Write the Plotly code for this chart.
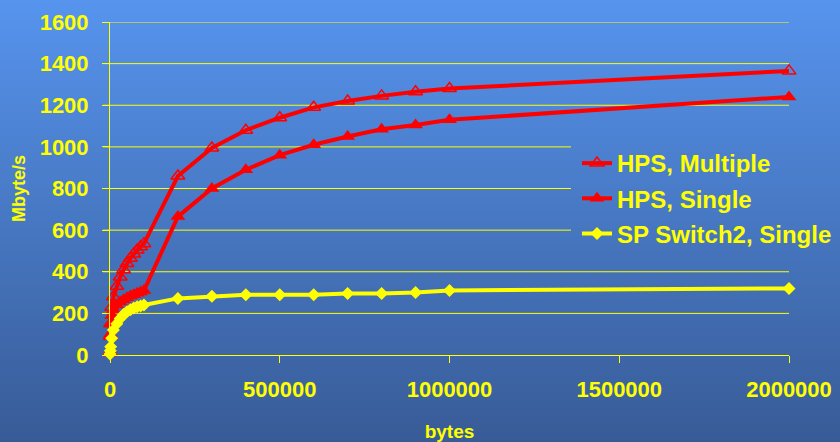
import plotly.graph_objects as go

# Message size in bytes
msg_bytes = [100, 1000, 2000, 5000, 10000, 20000, 30000, 40000, 50000, 60000,
             70000, 80000, 90000, 100000, 200000, 300000, 400000, 500000,
             600000, 700000, 800000, 900000, 1000000, 2000000]

# Bandwidth in Mbyte/s
hps_multiple = [15, 90, 150, 230, 280, 330, 375, 410, 440, 465, 485, 505, 520, 535,
                860, 995, 1080, 1140, 1190, 1220, 1245, 1265, 1280, 1365]
hps_single = [10, 100, 150, 190, 215, 240, 255, 265, 275, 283, 290, 297, 303, 310,
              665, 800, 890, 960, 1010, 1050, 1085, 1105, 1130, 1240]
sp_switch2 = [5, 20, 40, 80, 120, 150, 175, 195, 208, 218, 226, 232, 236, 240,
              272, 282, 290, 290, 290, 295, 295, 300, 310, 320]

y_ticks = [0, 200, 400, 600, 800, 1000, 1200, 1400, 1600]
x_ticks = [0, 500000, 1000000, 1500000, 2000000]

W, H = 840, 442
ML, MR, MT, MB = 110, 51, 22, 87
PW, PH = W - ML - MR, H - MT - MB
Y_MAX = 1600

YELLOW = "#ffff00"
RED = "#ff0000"
FONT = "Liberation Sans"

TOP = (86, 148, 238)
BOT = (56, 91, 150)

# legend box (pixels); gridlines stop at its left edge
LEG_X0, LEG_Y0, LEG_Y1 = 571, 142, 254


def px_x(p):
    return (p - ML) / PW


def px_y(p):
    return (H - MB - p) / PH


def grad(p):
    t = p / H
    return "rgb(%d,%d,%d)" % tuple(round(a + (b - a) * t) for a, b in zip(TOP, BOT))


shapes = []
STEP = 4
# vertical gradient behind the whole figure
for p in range(0, H, STEP):
    shapes.append(dict(type="rect", xref="paper", yref="paper", layer="below",
                       x0=px_x(0), x1=px_x(W), y0=px_y(p + STEP + 1), y1=px_y(p),
                       fillcolor=grad(p + STEP / 2), line=dict(width=0)))

# horizontal gridlines, cut short where the legend sits
for v in y_ticks[1:]:
    py = H - MB - v / Y_MAX * PH
    x_end = px_x(LEG_X0) if LEG_Y0 <= py <= LEG_Y1 else 1
    shapes.append(dict(type="line", xref="paper", yref="y", layer="below",
                       x0=px_x(ML - 7), x1=x_end, y0=v, y1=v,
                       line=dict(color=YELLOW, width=1)))

fig = go.Figure()
fig.add_trace(go.Scatter(
    x=msg_bytes, y=hps_multiple, name="HPS, Multiple", mode="lines+markers",
    line=dict(color=RED, width=4),
    marker=dict(symbol="triangle-up-open", size=12, color=RED, line=dict(width=1.5, color=RED)),
    cliponaxis=False, legendgroup="a"))
fig.add_trace(go.Scatter(
    x=msg_bytes, y=hps_single, name="HPS, Single", mode="lines+markers",
    line=dict(color=RED, width=4),
    marker=dict(symbol="triangle-up", size=13, color=RED),
    cliponaxis=False, legendgroup="b"))
fig.add_trace(go.Scatter(
    x=msg_bytes, y=sp_switch2, name="SP Switch2, Single", mode="lines+markers",
    line=dict(color=YELLOW, width=4),
    marker=dict(symbol="diamond", size=10, color=YELLOW),
    cliponaxis=False, legendgroup="c"))

fig.update_layout(
    width=W, height=H,
    margin=dict(l=ML, r=MR, t=MT, b=MB, autoexpand=False),
    paper_bgcolor=grad(H / 2), plot_bgcolor="rgba(0,0,0,0)",
    font=dict(family=FONT, color=YELLOW, size=22, weight="bold"),
    shapes=shapes,
    showlegend=True,
    legend=dict(x=px_x(577), y=px_y(141), xanchor="left", yanchor="top",
                bgcolor="rgba(0,0,0,0)", borderwidth=0, tracegroupgap=1,
                font=dict(family=FONT, size=24, color=YELLOW, weight="bold")),
    xaxis=dict(range=[0, 2000000], tickvals=x_ticks, ticktext=[str(v) for v in x_ticks],
               showgrid=False, zeroline=False, showline=True, linecolor=YELLOW, linewidth=1,
               ticks="outside", ticklen=7, tickcolor=YELLOW, tickwidth=1,
               ticklabelstandoff=8,
               tickfont=dict(family=FONT, size=22, color=YELLOW, weight="bold"),
               title=dict(text="bytes", standoff=23,
                          font=dict(family=FONT, size=19, color=YELLOW, weight="bold"))),
    yaxis=dict(range=[0, Y_MAX], tickvals=y_ticks, ticktext=[str(v) for v in y_ticks],
               showgrid=False, zeroline=False,
               showline=True, linecolor=YELLOW, linewidth=1,
               ticks="outside", ticklen=7, tickcolor=YELLOW, tickwidth=1,
               ticklabelstandoff=9,
               tickfont=dict(family=FONT, size=22, color=YELLOW, weight="bold"),
               title=dict(text="Mbyte/s", standoff=9,
                          font=dict(family=FONT, size=18, color=YELLOW, weight="bold"))),
)

fig.write_html("out.html")
